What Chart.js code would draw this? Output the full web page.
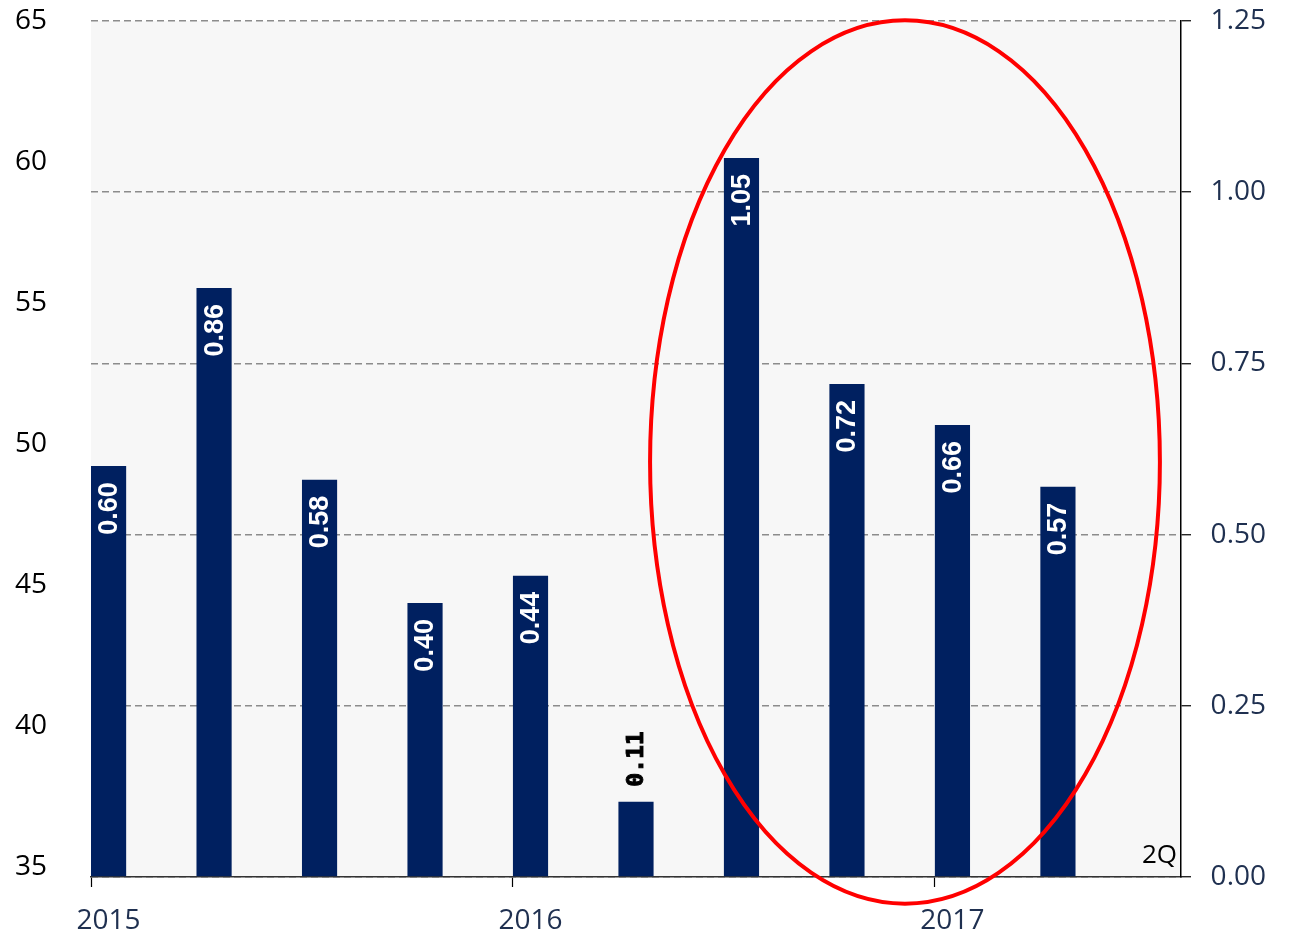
<!DOCTYPE html>
<html>
<head>
<meta charset="utf-8">
<script src="https://cdn.jsdelivr.net/npm/chart.js@4/dist/chart.umd.min.js"></script>
<style>
  html, body { margin: 0; padding: 0; background: #ffffff; }
  #wrap { width: 1291px; height: 933px; position: relative; }
</style>
</head>
<body>
<div id="wrap"><canvas id="c" width="1291" height="933"></canvas></div>
<script>
// ---- data ----
const quarters = ["2015 1Q","2015 2Q","2015 3Q","2015 4Q","2016 1Q","2016 2Q","2016 3Q","2016 4Q","2017 1Q","2017 2Q"];
const values = [0.60, 0.86, 0.58, 0.40, 0.44, 0.11, 1.05, 0.72, 0.66, 0.57];
const yearLabels = ["2015", "2016", "2017"];
const rightTicks = [0, 0.25, 0.5, 0.75, 1.0, 1.25];
const leftTicks = [35, 40, 45, 50, 55, 60, 65];
const cornerNote = "2Q";

// time axis in months from Jan 2015; each quarter's bar occupies its first month
const MONTHS_PER_Q = 3;
const barPoints = values.map((v, i) => ({ x: i * MONTHS_PER_Q + 0.5, y: v }));
const yearTickMonths = yearLabels.map((_, i) => i * 12);
const axisEndMonth = 31;

// highlight ellipse (in axis units: months / right-axis value)
const ellipseCenter = { x: 23.15, y: 0.606 };
const ellipseRadius = { x: 7.25, y: 0.645 };

const NAVY = '#002060';
const LABEL_NAVY = '#1f3050';
const AXIS_FONT = "'Open Sans', 'Liberation Sans', sans-serif";

const bgPlugin = {
  id: 'plotBg',
  beforeDraw(chart) {
    const { ctx, chartArea: a } = chart;
    ctx.save();
    ctx.fillStyle = '#f7f7f7';
    ctx.fillRect(a.left, a.top, a.right - a.left, a.bottom - a.top);
    ctx.restore();
  }
};

const labelPlugin = {
  id: 'barLabels',
  afterDatasetsDraw(chart) {
    const { ctx } = chart;
    const meta = chart.getDatasetMeta(0);
    ctx.save();
    meta.data.forEach((bar, i) => {
      const txt = values[i].toFixed(2);
      const h = bar.base - bar.y;
      ctx.font = "bold 27px 'Liberation Sans', Arial, sans-serif";
      const w = ctx.measureText(txt).width;
      ctx.save();
      if (h > w + 30) {
        ctx.translate(bar.x + 1, bar.y + 16);
        ctx.rotate(-Math.PI / 2);
        ctx.fillStyle = '#ffffff';
        ctx.textAlign = 'right';
        ctx.textBaseline = 'middle';
        ctx.fillText(txt, 0, 0);
      } else {
        ctx.font = "bold 23px 'DejaVu Sans Mono', 'Liberation Mono', monospace";
        ctx.translate(bar.x + 1, bar.y - 15);
        ctx.rotate(-Math.PI / 2);
        ctx.fillStyle = '#000000';
        ctx.strokeStyle = '#000000';
        ctx.lineWidth = 0.9;
        ctx.textAlign = 'left';
        ctx.textBaseline = 'middle';
        ctx.fillText(txt, 0, 0);
        ctx.strokeText(txt, 0, 0);
      }
      ctx.restore();
    });
    ctx.restore();
  }
};

const overlayPlugin = {
  id: 'overlay',
  afterDraw(chart) {
    const { ctx, chartArea: a, scales } = chart;
    ctx.save();
    // corner note
    ctx.font = "26px " + AXIS_FONT;
    ctx.fillStyle = '#000000';
    ctx.textAlign = 'right';
    ctx.textBaseline = 'middle';
    ctx.fillText(cornerNote, a.right - 4, a.bottom - 21);
    // red ellipse annotation
    const cx = scales.x.getPixelForValue(ellipseCenter.x);
    const cy = scales.y.getPixelForValue(ellipseCenter.y);
    const rx = scales.x.getPixelForValue(ellipseCenter.x + ellipseRadius.x) - cx;
    const ry = cy - scales.y.getPixelForValue(ellipseCenter.y + ellipseRadius.y);
    ctx.beginPath();
    ctx.ellipse(cx, cy, rx, ry, 0, 0, Math.PI * 2);
    ctx.strokeStyle = '#ff0000';
    ctx.lineWidth = 4;
    ctx.stroke();
    ctx.restore();
  }
};

new Chart(document.getElementById('c'), {
  type: 'bar',
  data: {
    datasets: [{
      label: 'value',
      data: barPoints,
      backgroundColor: NAVY,
      borderWidth: 0,
      barPercentage: 1 / MONTHS_PER_Q,
      categoryPercentage: 1,
      xAxisID: 'x',
      yAxisID: 'y'
    }]
  },
  options: {
    responsive: false,
    animation: false,
    layout: { padding: { top: 21, left: 15, right: 25, bottom: 0 } },
    plugins: { legend: { display: false }, tooltip: { enabled: false } },
    scales: {
      x: {
        type: 'linear',
        position: 'bottom',
        min: 0,
        max: axisEndMonth,
        offset: false,
        afterBuildTicks(s) { s.ticks = yearTickMonths.map(v => ({ value: v })); },
        afterFit(s) { s.height = 56; },
        ticks: {
          callback: (v) => yearLabels[yearTickMonths.indexOf(v)],
          labelOffset: 17.5,
          padding: 17,
          color: LABEL_NAVY,
          font: { family: AXIS_FONT, size: 28 },
          maxRotation: 0,
          autoSkip: false
        },
        grid: {
          offset: false,
          drawOnChartArea: false,
          drawTicks: true,
          tickLength: 10,
          tickColor: '#000000',
          tickWidth: 1.2
        },
        border: { display: true, color: '#333333', width: 1.5 }
      },
      yL: {
        type: 'linear',
        position: 'left',
        min: 34.65,
        max: 65,
        afterBuildTicks(s) { s.ticks = leftTicks.map(v => ({ value: v })); },
        afterFit(s) { s.width = 76; },
        ticks: {
          color: '#000000',
          padding: 0,
          crossAlign: 'far',
          font: { family: AXIS_FONT, size: 28 }
        },
        grid: { display: false, drawTicks: false },
        border: { display: false }
      },
      y: {
        type: 'linear',
        position: 'right',
        min: 0,
        max: 1.25,
        afterBuildTicks(s) { s.ticks = rightTicks.map(v => ({ value: v })); },
        afterFit(s) { s.width = 85; },
        ticks: {
          color: LABEL_NAVY,
          padding: 0,
          crossAlign: 'far',
          callback: (v) => Number(v).toFixed(2),
          font: { family: AXIS_FONT, size: 28 }
        },
        grid: {
          color: '#8c8c8c',
          lineWidth: 1.5,
          drawTicks: true,
          tickLength: 10,
          tickColor: '#000000',
          tickWidth: 1.2,
          tickBorderDash: []
        },
        border: { display: true, color: '#000000', width: 1.5, dash: [7, 4] }
      }
    }
  },
  plugins: [bgPlugin, labelPlugin, overlayPlugin]
});
</script>
</body>
</html>
